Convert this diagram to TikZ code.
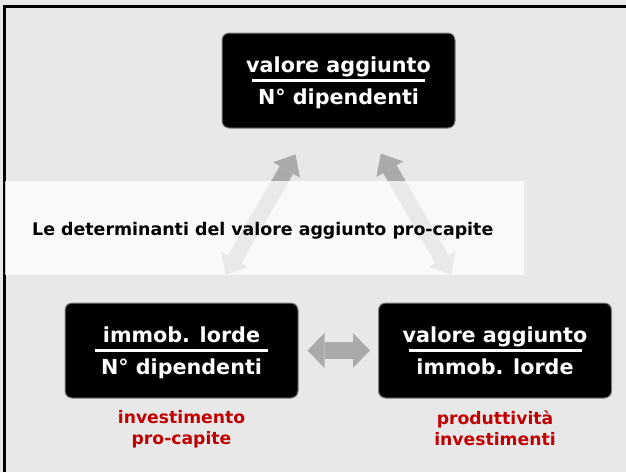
\documentclass[tikz,border=0pt]{standalone}
\usepackage{fontspec}
\setmainfont{DejaVu Sans}
\usetikzlibrary{positioning,arrows.meta}
\definecolor{slidegray}{HTML}{E8E8E8}
\definecolor{arrowgray}{HTML}{AAAAAA}
\definecolor{labelred}{HTML}{C00000}
\newcommand{\ratio}[2]{\parbox{220pt}{\offinterlineskip\centering
	\rule[-6.5pt]{0pt}{27.5pt}#1\par\vspace{0.5pt}
	\rule{173pt}{3pt}\par\vspace{4pt}
	\rule[-6pt]{0pt}{24pt}#2}}

\begin{document}
\begin{tikzpicture}[x=1pt, y=-1pt,
		ratiobox/.style={draw=gray, line width=1pt, fill=black, text=white, rounded corners=7pt,
			minimum width=233pt, minimum height=95pt, inner sep=0pt,
			font=\fontsize{20.7}{24.8}\selectfont\bfseries},
		redlabel/.style={text=labelred, align=center, inner sep=0pt,
			font=\fontsize{17.2}{21}\selectfont\bfseries},
		diagarrow/.style={draw=arrowgray, line width=15.5pt, <->,
			>={Triangle[length=18pt, width=31pt, line width=0pt]}},
		flatarrow/.style={draw=arrowgray, line width=17.5pt, <->,
			>={Triangle[length=17pt, width=35pt, line width=0pt]}}]
		\useasboundingbox (0,0) rectangle (626,472);
		\fill[slidegray] (0,0) rectangle (626,472);
		\draw[line width=3pt] (4.5,472) -- (4.5,6.5) -- (626,6.5);
		\node[ratiobox] (top) at (338.5,80.5) {\ratio{valore aggiunto}{N° dipendenti}};
		\node[ratiobox] (lbox) at (181.5,350.5) {\ratio{immob. lorde}{N° dipendenti}};
		\node[ratiobox] (rbox) at (495,350.5) {\ratio{valore aggiunto}{immob. lorde}};
		\draw[diagarrow, shorten <=32pt, shorten >=30pt] (lbox) -- (top);
		\draw[diagarrow, shorten <=32pt, shorten >=29pt] (rbox) -- (top);
		\draw[flatarrow, shorten <=9pt, shorten >=8pt] (lbox) -- (rbox);
		\fill[white, opacity=0.75] (5,181) rectangle (524,275);
		\node[anchor=base west, inner sep=0pt, font=\fontsize{17.4}{21}\selectfont\bfseries] (title) at (32,235.7) {Le determinanti del valore aggiunto pro-capite};
		\node[redlabel, below=12pt of lbox] (lcap) {investimento\\pro-capite};
		\node[redlabel, below=12pt of rbox] (rcap) {produttività\\investimenti};
	\end{tikzpicture}
\end{document}
